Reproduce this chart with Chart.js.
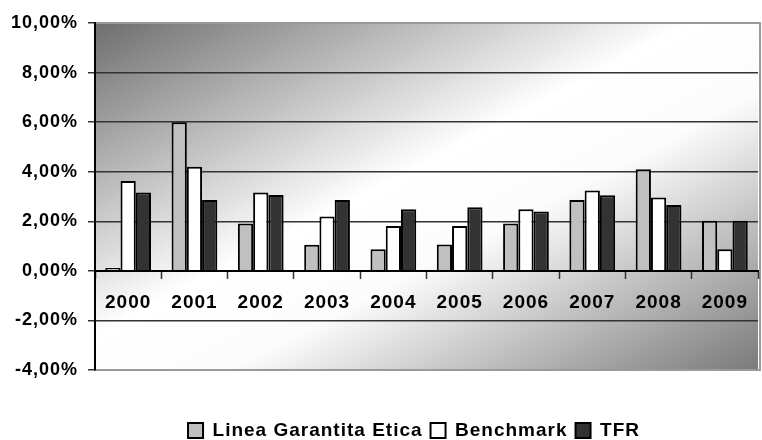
<!DOCTYPE html>
<html>
<head>
<meta charset="utf-8">
<script src="https://cdn.jsdelivr.net/npm/chart.js@4.4.1/dist/chart.umd.min.js"></script>
<style>
    html, body { margin: 0; padding: 0; background: #ffffff; }
    #wrap { width: 762px; height: 440px; position: relative; }
</style>
</head>
<body>
<div id="wrap"><canvas id="returnsChart"></canvas></div>
<script>
// Chart data
// ==========
const years = ['2000','2001','2002','2003','2004','2005','2006','2007','2008','2009'];
const lineaGarantitaEtica = [0.12, 6.00, 1.91, 1.05, 0.87, 1.06, 1.91, 2.86, 4.10, 2.02];
const benchmark = [3.63, 4.20, 3.16, 2.19, 1.81, 1.81, 2.49, 3.24, 2.96, 0.87];
const tfr = [3.16, 2.86, 3.06, 2.86, 2.49, 2.57, 2.39, 3.05, 2.66, 2.02];
const yTicks = [-4, -2, 0, 2, 4, 6, 8, 10];

const FONT = "'Liberation Sans', Arial, sans-serif";

// Excel draws its text a bit wider; a little letter spacing gets close
// (set again before update and draw because a canvas resize resets it)
const wideText = {
    id: 'wideText',
    beforeUpdate(chart) { chart.ctx.letterSpacing = '1px'; },
    beforeDraw(chart) { chart.ctx.letterSpacing = '1px'; }
};

// Plot area background: diagonal grey -> white -> grey, like the Excel fill
const plotBackground = {
    id: 'plotBackground',
    beforeDraw(chart) {
        const { ctx, chartArea: a } = chart;
        ctx.save();
        ctx.translate(a.left, a.top);
        ctx.scale(a.right - a.left, a.bottom - a.top);
        const g = ctx.createLinearGradient(0, 0, 1, 1);
        g.addColorStop(0, '#6e6e6e');
        g.addColorStop(0.45, '#ffffff');
        g.addColorStop(0.6, '#fcfcfc');
        g.addColorStop(1, '#7a7a7a');
        ctx.fillStyle = g;
        ctx.fillRect(0, 0, 1, 1);
        ctx.restore();

        ctx.save();
        ctx.strokeStyle = '#9a9a9a';
        ctx.lineWidth = 2;
        ctx.strokeRect(a.left, a.top, a.right - a.left + 2, a.bottom - a.top);
        ctx.restore();
    }
};

// Move the legend to where Excel put it
const legendShift = {
    id: 'legendShift',
    afterLayout(chart) {
        const lg = chart.legend;
        if (!lg) return;
        lg.left += 33; lg.right += 33;
        lg.top += 43; lg.bottom += 43;
    }
};

const tickLabel = (v) => v.toFixed(2).replace('.', ',') + '%';

const ctx = document.getElementById('returnsChart').getContext('2d');
new Chart(ctx, {
    type: 'bar',
    data: {
        labels: years,
        datasets: [
            { label: 'Linea Garantita Etica', data: lineaGarantitaEtica, backgroundColor: '#c0c0c0', borderColor: '#000000', borderWidth: 2 },
            { label: 'Benchmark', data: benchmark, backgroundColor: '#ffffff', borderColor: '#000000', borderWidth: 2 },
            { label: 'TFR', data: tfr, backgroundColor: '#333333', borderColor: '#000000', borderWidth: 2 }
        ]
    },
    options: {
        responsive: true,
        maintainAspectRatio: false,
        animation: false,
        layout: { padding: { top: 23, right: 0, bottom: 33, left: 0 } },
        datasets: { bar: { categoryPercentage: 0.69, barPercentage: 1 } },
        plugins: {
            tooltip: { enabled: false },
            legend: {
                position: 'bottom',
                labels: {
                    boxWidth: 15,
                    boxHeight: 15,
                    padding: 8,
                    color: '#000000',
                    font: { family: FONT, size: 19, weight: 'bold' }
                }
            }
        },
        scales: {
            x: {
                position: { y: 0 },
                grid: { offset: true, drawOnChartArea: false, tickLength: 7, tickColor: '#333333', tickWidth: 1.5 },
                border: { color: '#000000', width: 2 },
                ticks: { color: '#000000', padding: 14, font: { family: FONT, size: 19, weight: 'bold' } }
            },
            y: {
                min: yTicks[0],
                max: yTicks[yTicks.length - 1],
                afterFit(scale) { scale.width = 95; },
                afterBuildTicks(scale) { scale.ticks = yTicks.map(v => ({ value: v })); },
                grid: {
                    color: (c) => (c.tick && (c.tick.value === 0 || c.tick.value === 10 || c.tick.value === -4)) ? 'rgba(0,0,0,0)' : '#333333',
                    lineWidth: 1.5,
                    tickLength: 7,
                    tickColor: '#333333'
                },
                border: { color: '#000000', width: 2 },
                ticks: {
                    color: '#000000',
                    padding: 10,
                    font: { family: FONT, size: 18, weight: 'bold' },
                    callback: (v) => tickLabel(v)
                }
            }
        }
    },
    plugins: [wideText, plotBackground, legendShift]
});
</script>
</body>
</html>
